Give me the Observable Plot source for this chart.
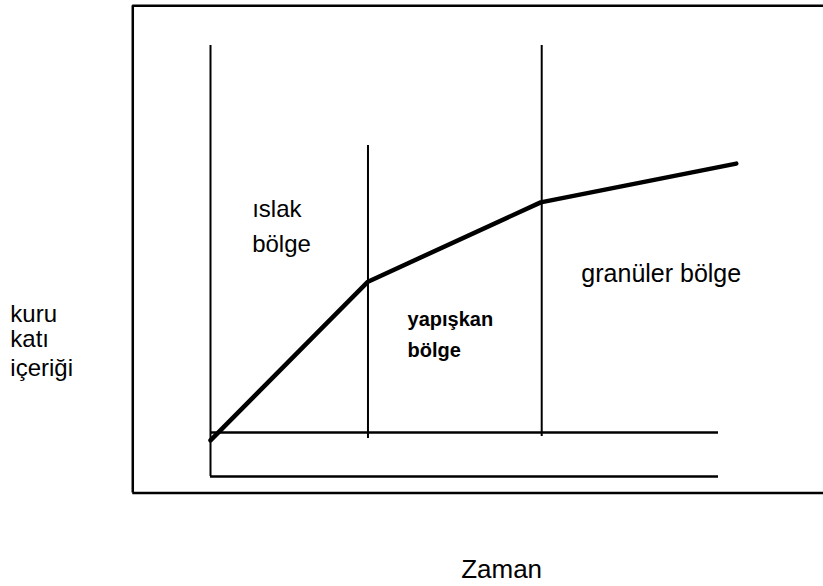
<!DOCTYPE html>
<html>
<head>
<meta charset="utf-8">
<script src="https://cdn.jsdelivr.net/npm/d3@7"></script>
<script src="https://cdn.jsdelivr.net/npm/@observablehq/plot@0.6"></script>
<style>
  html, body { margin: 0; padding: 0; background: #fff; overflow: hidden; }
  svg { display: block; }
</style>
</head>
<body>
<div id="chart"></div>
<script>
// Drying curve: dry solids content over time (schematic)
const curveTime = [0, 31, 65, 103.5];
const curveSolids = [8.4, 45.2, 63.6, 72.6];

// zone boundary lines (time), with their vertical extents
const boundaryTime = [0, 31, 65.2];
const boundaryBottom = [0, 8.8, 9.3];
const boundaryTop = [100, 76.8, 100];

// horizontal reference lines (solids level)
const baseLevels = [0, 10.2];

// zone labels
const zoneText = ["ıslak", "bölge"];
const zoneTime = [8.2, 8.2];
const zoneSolids = [61.9, 53.8];

const granularText = "granüler bölge";
const granularTime = 73;
const granularSolids = 46.9;

const stickyText = ["yapışkan", "bölge"];
const stickyTime = [38.8, 38.8];
const stickySolids = [36.5, 29.3];

const yLabelText = ["kuru", "katı", "içeriği"];
const yLabelSolids = [37.7, 31.8, 25.2];
const yLabelTime = -39.4;

const xLabelText = "Zaman";
const xLabelTime = 57.3;
const xLabelSolids = -21.7;

// frame around the figure (left, top and bottom edges; right edge lies off the page)
const frameLeft = -15.3;
const frameRight = 130;
const frameBottom = -3.8;
const frameTop = 109.2;

const curve = curveTime.map((t, i) => ({t, s: curveSolids[i]}));
const bounds = boundaryTime.map((t, i) => ({t, y1: boundaryBottom[i], y2: boundaryTop[i]}));
const zones = zoneText.map((text, i) => ({text, t: zoneTime[i], s: zoneSolids[i]}));
const sticky = stickyText.map((text, i) => ({text, t: stickyTime[i], s: stickySolids[i]}));
const ylab = yLabelText.map((text, i) => ({text, t: yLabelTime, s: yLabelSolids[i]}));

const font = "'Liberation Sans', Arial, Helvetica, sans-serif";

const plot = Plot.plot({
  width: 823,
  height: 586,
  margin: 0,
  style: {fontFamily: font, background: "#fff", overflow: "hidden"},
  x: {domain: [0, 100], range: [210, 718], axis: null},
  y: {domain: [0, 100], range: [476, 45], axis: null},
  marks: [
    Plot.ruleY([frameTop, frameBottom], {x1: frameLeft, x2: frameRight, stroke: "#000", strokeWidth: 2.5, clip: false}),
    Plot.ruleX([frameLeft], {y1: frameBottom, y2: frameTop, stroke: "#000", strokeWidth: 2.5, clip: false}),
    Plot.ruleY(baseLevels, {x1: 0, x2: 100, stroke: "#000", strokeWidth: 2.5}),
    Plot.ruleX(bounds, {x: "t", y1: "y1", y2: "y2", stroke: "#000", strokeWidth: 2}),
    Plot.line(curve, {x: "t", y: "s", stroke: "#000", strokeWidth: 4.5, strokeLinejoin: "round", clip: false}),
    Plot.text(zones, {x: "t", y: "s", text: "text", textAnchor: "start", fontSize: 24, fill: "#000"}),
    Plot.text([granularText], {x: () => granularTime, y: () => granularSolids, text: d => d, textAnchor: "start", fontSize: 25, fill: "#000"}),
    Plot.text(sticky, {x: "t", y: "s", text: "text", textAnchor: "start", fontSize: 20, fontWeight: "bold", fill: "#000"}),
    Plot.text(ylab, {x: "t", y: "s", text: "text", textAnchor: "start", fontSize: 24, fill: "#000", clip: false}),
    Plot.text([xLabelText], {x: () => xLabelTime, y: () => xLabelSolids, text: d => d, fontSize: 26, fill: "#000"})
  ]
});
document.getElementById("chart").appendChild(plot);
</script>
</body>
</html>
